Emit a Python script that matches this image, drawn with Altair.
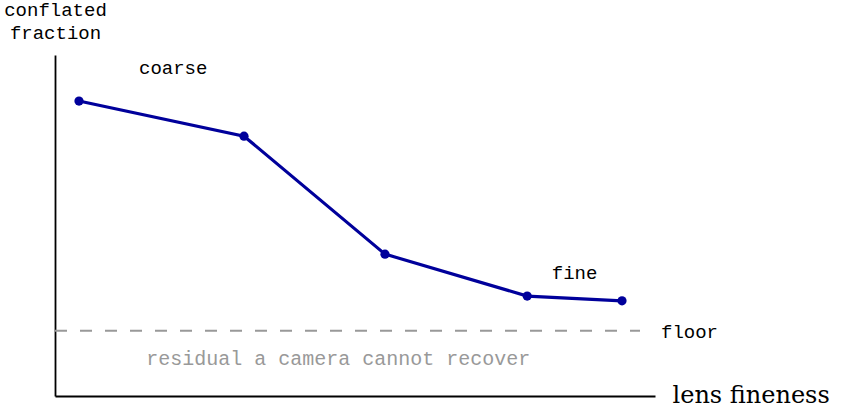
import altair as alt
import pandas as pd

# data values
fineness = [4.0, 31.5, 55.0, 78.7, 94.5]
conflated = [86.5, 76.2, 41.6, 29.3, 27.9]
floor_level = 19.1
floor_end = 97.5

labels = ["coarse", "fine"]
label_x = [19.7, 86.6]
label_y = [94.4, 34.3]

df = pd.DataFrame({"x": fineness, "y": conflated})
floor_df = pd.DataFrame({"x": [0.0], "x2": [floor_end], "y": [floor_level]})
lab_df = pd.DataFrame({"t": labels, "x": label_x, "y": label_y})
floor_lab = pd.DataFrame({"t": ["floor"], "x": [101.0], "y": [16.9]})
resid_lab = pd.DataFrame({"t": ["residual a camera cannot recover"], "x": [47.2], "y": [9.1]})

SMALL = "Liberation Mono"
BIG = "DejaVu Serif"
BLUE = "#00009b"
GREY = "#999999"

xs = alt.Scale(domain=[0, 100])
ys = alt.Scale(domain=[0, 100])

xaxis = alt.Axis(
    title="lens fineness", ticks=False, labels=False, grid=False,
    domainColor="black", domainWidth=1.8,
    titleFont=BIG, titleFontSize=24, titleFontWeight="normal", titleColor="black",
    titleX=617, titleY=6, titleAlign="left", titleBaseline="alphabetic", titleAnchor="start",
)
yaxis = alt.Axis(
    title=["conflated", "fraction"], ticks=False, labels=False, grid=False,
    domainColor="black", domainWidth=1.8,
    titleFont=SMALL, titleFontSize=19, titleFontWeight="normal", titleColor="black",
    titleAngle=0, titleX=0, titleY=-40, titleAlign="center", titleBaseline="alphabetic",
    titleLineHeight=23,
)

base = alt.Chart(df)

line = base.mark_line(color=BLUE, strokeWidth=3.2).encode(
    x=alt.X("x:Q", scale=xs, axis=xaxis),
    y=alt.Y("y:Q", scale=ys, axis=yaxis),
)
pts = base.mark_point(filled=True, color=BLUE, size=85, opacity=1).encode(
    x=alt.X("x:Q", scale=xs), y=alt.Y("y:Q", scale=ys)
)

floor = alt.Chart(floor_df).mark_rule(color=GREY, strokeWidth=2, strokeDash=[12, 13]).encode(
    x=alt.X("x:Q", scale=xs), x2="x2:Q", y=alt.Y("y:Q", scale=ys)
)

txt = alt.Chart(lab_df).mark_text(font=SMALL, fontSize=19, color="black", baseline="alphabetic").encode(
    x=alt.X("x:Q", scale=xs), y=alt.Y("y:Q", scale=ys), text="t:N"
)
ftxt = alt.Chart(floor_lab).mark_text(font=SMALL, fontSize=19, color="black", align="left", baseline="alphabetic").encode(
    x=alt.X("x:Q", scale=xs), y=alt.Y("y:Q", scale=ys), text="t:N"
)
rtxt = alt.Chart(resid_lab).mark_text(font=SMALL, fontSize=20, color=GREY, baseline="alphabetic").encode(
    x=alt.X("x:Q", scale=xs), y=alt.Y("y:Q", scale=ys), text="t:N"
)

chart = alt.layer(floor, line, pts, txt, ftxt, rtxt).properties(
    width=600, height=341,
    autosize=alt.AutoSizeParams(type="none"),
    padding={"left": 55, "top": 55, "right": 194, "bottom": 12},
).configure_view(stroke="transparent", strokeWidth=0)

chart.save("out.html", embed_options={"renderer": "svg", "actions": False})
